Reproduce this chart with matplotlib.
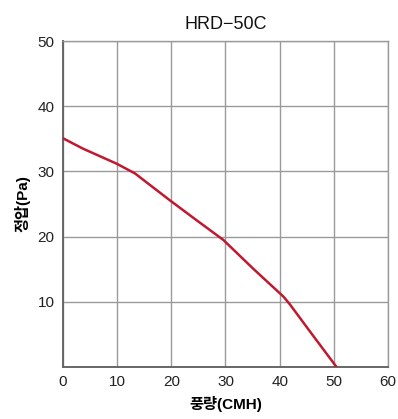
import matplotlib
matplotlib.use("Agg")
import matplotlib.pyplot as plt

plt.rcParams["font.family"] = ["Liberation Sans", "Noto Sans CJK KR", "DejaVu Sans"]

# 풍량(CMH) vs 정압(Pa)
flow = [0, 3.7, 9.9, 13.3, 19.7, 24.7, 29.6, 35.1, 40.7, 41.9, 46.0, 50.5]
pressure = [35.1, 33.5, 31.2, 29.7, 25.6, 22.5, 19.5, 15.1, 10.8, 9.6, 5.0, 0]

x_ticks = [0, 10, 20, 30, 40, 50, 60]
y_ticks = [10, 20, 30, 40, 50]

GRID = "#9a9a9a"
SPINE = "#666666"
CURVE = "#c0182f"

fig = plt.figure(figsize=(3.98, 4.19), dpi=100)
ax = fig.add_axes([0.158, 0.124, 0.817, 0.778])

ax.plot(flow, pressure, color=CURVE, linewidth=1.8, solid_joinstyle="round", zorder=3)

ax.set_xlim(0, 60)
ax.set_ylim(0, 50)
ax.set_xticks(x_ticks)
ax.set_yticks(y_ticks)
ax.grid(True, color=GRID, linewidth=1.0)
ax.tick_params(length=0, labelsize=11, pad=6, colors="#222222")

for side in ["top", "right"]:
    ax.spines[side].set_color(GRID)
    ax.spines[side].set_linewidth(1.0)
for side in ["left", "bottom"]:
    ax.spines[side].set_color(SPINE)
    ax.spines[side].set_linewidth(1.4)

ax.set_title("HRD−50C", fontsize=13, pad=9, color="#111111")
ax.set_xlabel("풍량(CMH)", fontsize=11, fontweight="bold", labelpad=5)
ax.set_ylabel("정압(Pa)", fontsize=11, fontweight="bold", labelpad=5)

fig.savefig("out.png", dpi=100)
